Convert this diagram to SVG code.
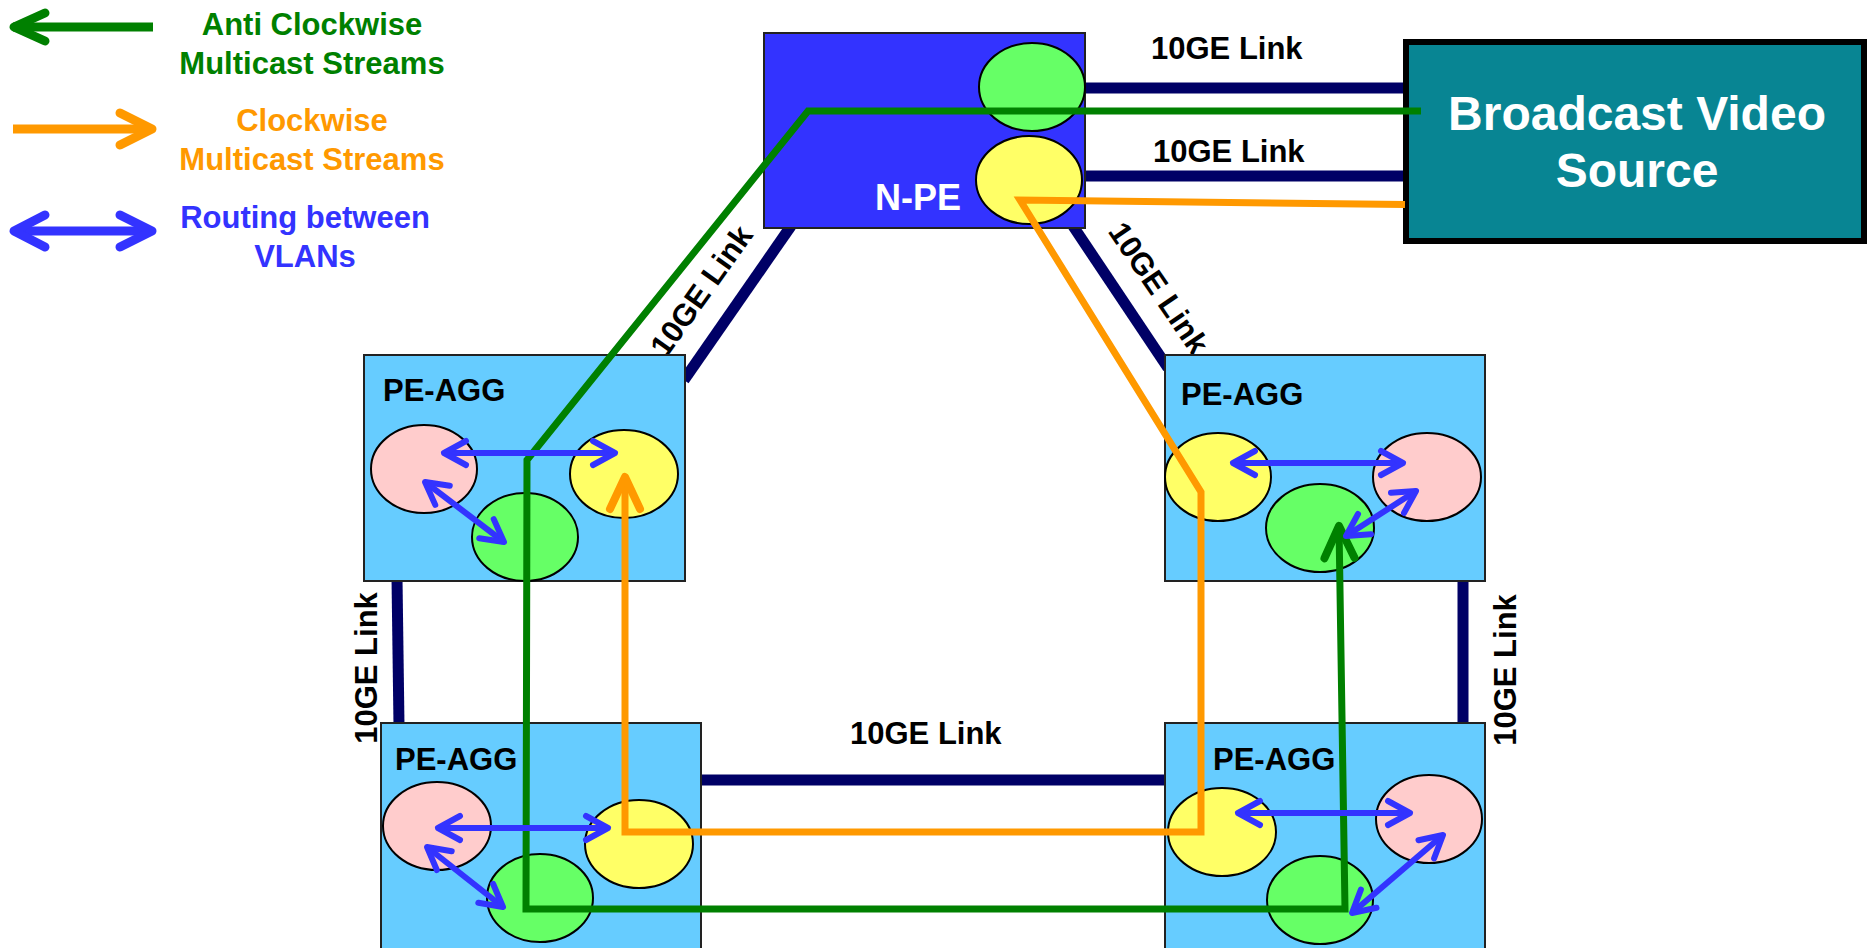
<svg xmlns="http://www.w3.org/2000/svg" width="1867" height="948" viewBox="0 0 1867 948">
<style>
text{font-family:"Liberation Sans",Arial,sans-serif;font-weight:bold}
.lbl{font-size:31px;fill:#000}
.leg{font-size:31px;text-anchor:middle}
.box{fill:#66CCFF;stroke:#222;stroke-width:2}
.el{stroke:#000;stroke-width:2}
.pk{fill:#FFCCCC}.yl{fill:#FFFF66}.gr{fill:#66FF66}
.link{stroke:#000066;stroke-width:11;fill:none}
.gs{stroke:#008000;stroke-width:7;fill:none}
.os{stroke:#FF9900;stroke-width:7;fill:none}
.ba{stroke:#3333FF;stroke-width:6;fill:none;marker-start:url(#bs);marker-end:url(#be)}
</style>
<defs>
<marker id="be" markerUnits="userSpaceOnUse" orient="auto" overflow="visible" refX="0" refY="0" markerWidth="1" markerHeight="1"><path d="M-22,-12 L0,0 L-22,12" fill="none" stroke="#3333FF" stroke-width="6" stroke-linecap="round" stroke-linejoin="round"/></marker>
<marker id="bs" markerUnits="userSpaceOnUse" orient="auto" overflow="visible" refX="0" refY="0" markerWidth="1" markerHeight="1"><path d="M22,-12 L0,0 L22,12" fill="none" stroke="#3333FF" stroke-width="6" stroke-linecap="round" stroke-linejoin="round"/></marker>
<marker id="ge" markerUnits="userSpaceOnUse" orient="auto" overflow="visible" refX="0" refY="0" markerWidth="1" markerHeight="1"><path d="M-32,-15 L0,0 L-32,15" fill="none" stroke="#008000" stroke-width="8" stroke-linecap="round" stroke-linejoin="round"/></marker>
<marker id="oe" markerUnits="userSpaceOnUse" orient="auto" overflow="visible" refX="0" refY="0" markerWidth="1" markerHeight="1"><path d="M-32,-15 L0,0 L-32,15" fill="none" stroke="#FF9900" stroke-width="8" stroke-linecap="round" stroke-linejoin="round"/></marker>
</defs>
<rect width="1867" height="948" fill="#fff"/>

<g id="legend">
<path d="M13,27 H153" stroke="#008000" stroke-width="9"/>
<path d="M45,13 L14,27 L45,41" fill="none" stroke="#008000" stroke-width="9" stroke-linecap="round" stroke-linejoin="round"/>
<text class="leg" x="312" y="35" fill="#008000">Anti Clockwise</text>
<text class="leg" x="312" y="74" fill="#008000">Multicast Streams</text>
<path d="M13,129 H151" stroke="#FF9900" stroke-width="9"/>
<path d="M120,113 L152,129 L120,145" fill="none" stroke="#FF9900" stroke-width="9" stroke-linecap="round" stroke-linejoin="round"/>
<text class="leg" x="312" y="131" fill="#FF9900">Clockwise</text>
<text class="leg" x="312" y="170" fill="#FF9900">Multicast Streams</text>
<path d="M15,231 H151" stroke="#3333FF" stroke-width="9"/>
<path d="M45,215 L14,231 L45,247 M120,215 L152,231 L120,247" fill="none" stroke="#3333FF" stroke-width="9" stroke-linecap="round" stroke-linejoin="round"/>
<text class="leg" x="305" y="228" fill="#3333FF">Routing between</text>
<text class="leg" x="305" y="267" fill="#3333FF">VLANs</text>
</g>

<g id="links">
<path class="link" d="M1080,88 H1406"/>
<path class="link" d="M1080,176 H1408"/>
<path class="link" d="M791,226 L684,380"/>
<path class="link" d="M1073,226 L1168,368"/>
<path class="link" d="M397,578 L399,726"/>
<path class="link" d="M1463,578 V726"/>
<path class="link" d="M698,780 H1168"/>
<text class="lbl" x="1151" y="59">10GE Link</text>
<text class="lbl" x="1153" y="162">10GE Link</text>
<text class="lbl" x="850" y="744">10GE Link</text>
<text class="lbl" text-anchor="middle" transform="translate(710,297) rotate(-54.5)">10GE Link</text>
<text class="lbl" text-anchor="middle" transform="translate(1150,294) rotate(55.7)">10GE Link</text>
<text class="lbl" text-anchor="middle" transform="translate(377,668) rotate(-90)">10GE Link</text>
<text class="lbl" text-anchor="middle" transform="translate(1516,670) rotate(-90)">10GE Link</text>
</g>

<g id="source">
<rect x="1406" y="42" width="458" height="199" fill="#088593" stroke="#000" stroke-width="6"/>
<text x="1637" y="130" text-anchor="middle" font-size="48" fill="#fff">Broadcast Video</text>
<text x="1637" y="187" text-anchor="middle" font-size="48" fill="#fff">Source</text>
</g>

<g id="npe">
<rect x="764" y="33" width="321" height="195" fill="#3333FF" stroke="#222" stroke-width="2"/>
<ellipse class="el gr" cx="1032" cy="87" rx="53" ry="44"/>
<ellipse class="el yl" cx="1029" cy="180" rx="53" ry="44"/>
<text x="875" y="210" font-size="36" fill="#fff">N-PE</text>
</g>

<g id="pe-agg-tl">
<rect class="box" x="364" y="355" width="321" height="226"/>
<text class="lbl" x="383" y="401">PE-AGG</text>
<ellipse class="el pk" cx="424" cy="469" rx="53" ry="44"/>
<ellipse class="el yl" cx="624" cy="474" rx="54" ry="44"/>
<ellipse class="el gr" cx="525" cy="537" rx="53" ry="44"/>
</g>

<g id="pe-agg-tr">
<rect class="box" x="1165" y="355" width="320" height="226"/>
<text class="lbl" x="1181" y="405">PE-AGG</text>
<ellipse class="el yl" cx="1218" cy="477" rx="53" ry="44"/>
<ellipse class="el pk" cx="1427" cy="477" rx="54" ry="44"/>
<ellipse class="el gr" cx="1320" cy="528" rx="54" ry="44"/>
</g>

<g id="pe-agg-bl">
<rect class="box" x="381" y="723" width="320" height="240"/>
<text class="lbl" x="395" y="770">PE-AGG</text>
<ellipse class="el pk" cx="437" cy="826" rx="54" ry="44"/>
<ellipse class="el yl" cx="639" cy="844" rx="54" ry="44"/>
<ellipse class="el gr" cx="540" cy="898" rx="53" ry="44"/>
</g>

<g id="pe-agg-br">
<rect class="box" x="1165" y="723" width="320" height="240"/>
<text class="lbl" x="1213" y="770">PE-AGG</text>
<ellipse class="el yl" cx="1222" cy="832" rx="54" ry="44"/>
<ellipse class="el pk" cx="1429" cy="819" rx="53" ry="44"/>
<ellipse class="el gr" cx="1320" cy="900" rx="53" ry="44"/>
</g>

<g id="connectors">
<path class="gs" d="M1421,111 H808 L527,460 L526,909 H1345 L1339,526" marker-end="url(#ge)"/>
<path class="os" d="M1405,204.5 L1020,200 L1201,492 V832 H625 V477" marker-end="url(#oe)"/>
<path class="ba" d="M444,453 H615"/>
<path class="ba" d="M425,482 L504,542"/>
<path class="ba" d="M1233,463 H1403"/>
<path class="ba" d="M1416,491 L1346,536"/>
<path class="ba" d="M438,828 H608"/>
<path class="ba" d="M427,847 L503,907"/>
<path class="ba" d="M1238,813 H1410"/>
<path class="ba" d="M1443,835 L1352,913"/>
</g>
</svg>
